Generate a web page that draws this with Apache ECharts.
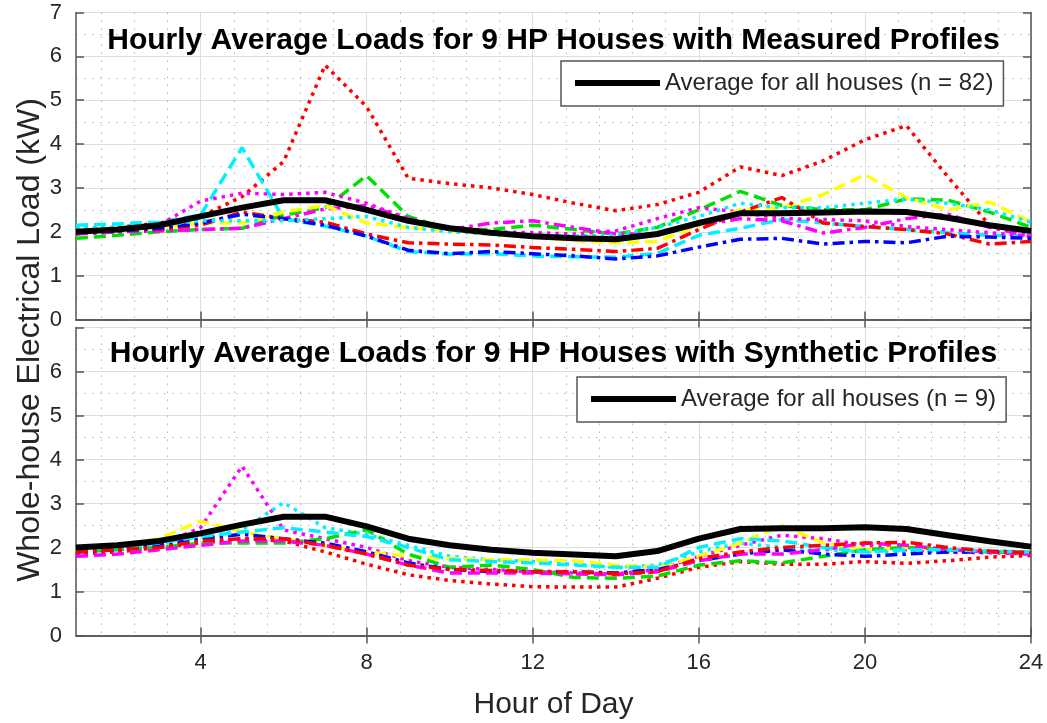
<!DOCTYPE html>
<html>
<head>
<meta charset="utf-8">
<script src="https://cdn.jsdelivr.net/npm/echarts@6/dist/echarts.min.js"></script>
<style>
  html, body { margin: 0; padding: 0; background: #ffffff; }
  #chart { width: 1047px; height: 723px; }
</style>
</head>
<body>
<div id="chart"></div>
<script>
// Hour of day (x values shared by every profile)
const hours = [1, 2, 3, 4, 5, 6, 7, 8, 9, 10, 11, 12, 13, 14, 15, 16, 17, 18, 19, 20, 21, 22, 23, 24];

// Tick labels
const hourTicks = [4, 8, 12, 16, 20, 24];
const hourMinorGrid = [1.6, 2.4, 3.2, 4.8, 5.6, 6.4, 7.2, 8.8, 9.6, 10.4, 11.2, 12.8, 13.6, 14.4, 15.2,
                       16.8, 17.6, 18.4, 19.2, 20.8, 21.6, 22.4, 23.2];
const loadTicksTop = [0, 1, 2, 3, 4, 5, 6, 7];
const loadTicksBottom = [0, 1, 2, 3, 4, 5, 6];

// Panel titles and legend names
const titleMeasured = 'Hourly Average Loads for 9 HP Houses with Measured Profiles';
const titleSynthetic = 'Hourly Average Loads for 9 HP Houses with Synthetic Profiles';
const avgNameMeasured = 'Average for all houses (n = 82)';
const avgNameSynthetic = 'Average for all houses (n = 9)';

// Measured profiles (kW)
const measuredAverage = [2.0, 2.05, 2.15, 2.35, 2.55, 2.72, 2.72, 2.5, 2.25, 2.08, 1.98, 1.9, 1.85, 1.83, 1.95, 2.2, 2.42, 2.42, 2.44, 2.46, 2.45, 2.32, 2.15, 2.02];
const measuredHouse1 = [2.05, 2.1, 2.2, 2.35, 2.8, 3.6, 5.8, 4.85, 3.22, 3.1, 3.0, 2.85, 2.65, 2.48, 2.62, 2.9, 3.48, 3.28, 3.62, 4.1, 4.42, 3.25, 2.15, 2.0];
const measuredHouse2 = [2.15, 2.18, 2.22, 2.38, 3.92, 2.3, 2.13, 1.9, 1.55, 1.49, 1.5, 1.45, 1.43, 1.42, 1.51, 1.92, 2.08, 2.28, 2.2, 2.12, 2.05, 1.98, 1.92, 1.9];
const measuredHouse3 = [1.85, 1.92, 2.0, 2.05, 2.08, 2.38, 2.55, 3.28, 2.35, 2.05, 2.05, 2.15, 2.05, 1.95, 2.1, 2.5, 2.92, 2.6, 2.5, 2.5, 2.75, 2.72, 2.45, 2.1];
const measuredHouse4 = [1.95, 2.0, 2.15, 2.7, 2.88, 2.85, 2.9, 2.65, 2.3, 2.05, 2.0, 1.98, 1.95, 2.02, 2.3, 2.55, 2.45, 2.3, 2.28, 2.25, 2.12, 2.05, 1.98, 1.9];
const measuredHouse5 = [1.95, 2.0, 2.02, 2.05, 2.08, 2.3, 2.52, 2.6, 2.3, 2.05, 2.2, 2.25, 2.1, 1.95, 1.95, 2.15, 2.3, 2.25, 1.97, 2.1, 2.3, 2.4, 2.1, 1.9];
const measuredHouse6 = [2.0, 2.05, 2.1, 2.2, 2.2, 2.45, 2.6, 2.2, 2.1, 2.02, 1.95, 1.9, 1.8, 1.75, 1.78, 2.15, 2.5, 2.55, 2.85, 3.3, 2.78, 2.5, 2.68, 2.22];
const measuredHouse7 = [2.0, 2.02, 2.06, 2.15, 2.45, 2.3, 2.22, 1.95, 1.75, 1.72, 1.7, 1.64, 1.6, 1.55, 1.62, 2.05, 2.45, 2.78, 2.2, 2.12, 2.05, 1.95, 1.72, 1.78];
const measuredHouse8 = [2.0, 2.02, 2.08, 2.2, 2.4, 2.3, 2.15, 1.9, 1.58, 1.5, 1.55, 1.5, 1.45, 1.38, 1.45, 1.65, 1.83, 1.85, 1.72, 1.78, 1.75, 1.9, 1.88, 1.85];
const measuredHouse9 = [2.1, 2.1, 2.15, 2.25, 2.25, 2.25, 2.3, 2.35, 2.1, 2.0, 1.95, 1.92, 1.9, 1.92, 2.1, 2.35, 2.65, 2.55, 2.55, 2.65, 2.75, 2.65, 2.5, 2.22];

// Synthetic profiles (kW)
const syntheticAverage = [2.0, 2.05, 2.15, 2.32, 2.52, 2.7, 2.7, 2.48, 2.2, 2.05, 1.95, 1.88, 1.84, 1.8, 1.92, 2.2, 2.42, 2.44, 2.44, 2.46, 2.42, 2.28, 2.14, 2.02];
const syntheticHouse1 = [1.85, 1.9, 2.05, 2.45, 3.85, 2.4, 2.2, 2.0, 1.7, 1.55, 1.5, 1.45, 1.42, 1.4, 1.5, 1.8, 2.05, 2.28, 2.2, 2.05, 1.95, 1.9, 1.88, 1.85];
const syntheticHouse2 = [1.9, 1.95, 2.05, 2.2, 2.4, 3.02, 2.45, 2.3, 2.05, 1.8, 1.72, 1.68, 1.62, 1.55, 1.6, 1.9, 2.1, 2.0, 1.95, 1.9, 1.92, 1.95, 1.92, 1.9];
const syntheticHouse3 = [1.9, 2.0, 2.2, 2.6, 2.35, 2.2, 2.05, 1.9, 1.8, 1.75, 1.72, 1.72, 1.7, 1.6, 1.55, 1.8, 2.1, 2.5, 2.1, 1.95, 2.0, 1.95, 1.9, 1.85];
const syntheticHouse4 = [1.85, 1.9, 2.0, 2.1, 2.2, 2.15, 1.9, 1.62, 1.38, 1.25, 1.17, 1.11, 1.1, 1.1, 1.3, 1.55, 1.68, 1.62, 1.62, 1.68, 1.64, 1.7, 1.78, 1.82];
const syntheticHouse5 = [1.9, 1.95, 2.0, 2.1, 2.1, 2.1, 2.2, 2.4, 1.85, 1.55, 1.6, 1.5, 1.32, 1.3, 1.35, 1.6, 1.7, 1.65, 1.8, 1.95, 2.0, 1.95, 1.9, 1.88];
const syntheticHouse6 = [1.9, 1.95, 2.05, 2.2, 2.3, 2.2, 2.1, 1.9, 1.65, 1.5, 1.45, 1.45, 1.45, 1.42, 1.5, 1.7, 1.85, 1.95, 1.85, 1.8, 1.85, 1.9, 1.9, 1.88];
const syntheticHouse7 = [1.8, 1.85, 1.95, 2.05, 2.15, 2.15, 2.05, 1.85, 1.6, 1.42, 1.42, 1.42, 1.4, 1.38, 1.45, 1.7, 1.85, 1.85, 1.95, 2.1, 2.05, 1.95, 1.9, 1.85];
const syntheticHouse8 = [1.95, 2.0, 2.1, 2.25, 2.35, 2.45, 2.35, 2.25, 2.0, 1.72, 1.68, 1.65, 1.6, 1.55, 1.55, 2.0, 2.2, 2.15, 2.0, 1.9, 1.95, 1.95, 1.92, 1.9];
const syntheticHouse9 = [1.9, 1.95, 2.0, 2.15, 2.2, 2.2, 2.05, 1.85, 1.6, 1.5, 1.48, 1.45, 1.45, 1.4, 1.45, 1.75, 1.9, 2.0, 2.05, 2.1, 2.12, 2.0, 1.92, 1.88];

// Line appearance
const FONT = "'Liberation Sans', Arial, Helvetica, sans-serif";
const DASH = {
  dot: [3.5, 5],
  dash: [12, 6],
  dashdot: [12, 5, 3.5, 5]
};
const measuredLines = [
  [measuredHouse1, '#ff0000', 'dot'],
  [measuredHouse2, '#00f0ff', 'dash'],
  [measuredHouse3, '#00e000', 'dash'],
  [measuredHouse4, '#ff00ff', 'dot'],
  [measuredHouse5, '#ff00ff', 'dashdot'],
  [measuredHouse6, '#ffff00', 'dash'],
  [measuredHouse7, '#ff0000', 'dashdot'],
  [measuredHouse8, '#0000ff', 'dashdot'],
  [measuredHouse9, '#00f0ff', 'dot']
];
const syntheticLines = [
  [syntheticHouse1, '#ff00ff', 'dot'],
  [syntheticHouse2, '#00f0ff', 'dot'],
  [syntheticHouse3, '#ffff00', 'dash'],
  [syntheticHouse4, '#ff0000', 'dot'],
  [syntheticHouse5, '#00e000', 'dash'],
  [syntheticHouse6, '#0000ff', 'dashdot'],
  [syntheticHouse7, '#ff00ff', 'dash'],
  [syntheticHouse8, '#00f0ff', 'dash'],
  [syntheticHouse9, '#ff0000', 'dashdot']
];

const toPoints = vals => hours.map((h, i) => [h, vals[i]]);

const BOX = '#555555';
const GRIDS = [
  { left: 76, top: 12.5, width: 955, height: 307 },
  { left: 76, top: 327.5, width: 955, height: 308 }
];

function xAxesFor(g, showLabels) {
  return [
    { // bottom: labels, ticks and major grid
      type: 'value', gridIndex: g, position: 'bottom', min: 1, max: 24,
      axisLine: { show: true, lineStyle: { color: BOX, width: 1.5 } },
      axisTick: { show: true, inside: true, length: 8, customValues: hourTicks, lineStyle: { color: BOX, width: 1.5 } },
      axisLabel: { show: showLabels, customValues: hourTicks, margin: 16, fontSize: 22, color: '#262626', fontFamily: FONT },
      splitLine: { show: true, lineStyle: { color: '#dedede', width: 1 } }
    },
    { // top edge of the box
      type: 'value', gridIndex: g, position: 'top', min: 1, max: 24,
      axisLine: { show: true, lineStyle: { color: BOX, width: 1.5 } },
      axisTick: { show: true, inside: true, length: 8, customValues: hourTicks, lineStyle: { color: BOX, width: 1.5 } },
      axisLabel: { show: false },
      splitLine: { show: false }
    },
    { // dotted minor grid along x
      type: 'value', gridIndex: g, position: 'bottom', min: 1, max: 24,
      axisLine: { show: false },
      axisTick: { show: false, customValues: hourMinorGrid },
      axisLabel: { show: false },
      splitLine: { show: true, lineStyle: { color: '#b4b4b4', width: 1, type: [1.5, 6.5] } }
    }
  ];
}

function yAxesFor(g, labels) {
  return [
    {
      type: 'value', gridIndex: g, position: 'left', min: 0, max: 7, interval: 1,
      axisLine: { show: true, lineStyle: { color: BOX, width: 1.5 } },
      axisTick: { show: true, inside: true, length: 8, lineStyle: { color: BOX, width: 1.5 } },
      axisLabel: { show: true, customValues: labels, margin: 14, fontSize: 22, color: '#262626', fontFamily: FONT },
      splitLine: { show: true, lineStyle: { color: '#dedede', width: 1 } },
      minorTick: { show: false, splitNumber: 2 },
      minorSplitLine: { show: true, lineStyle: { color: '#b4b4b4', width: 1, type: [1.5, 6.5] } }
    },
    {
      type: 'value', gridIndex: g, position: 'right', min: 0, max: 7, interval: 1,
      axisLine: { show: true, lineStyle: { color: BOX, width: 1.5 } },
      axisTick: { show: true, inside: true, length: 8, lineStyle: { color: BOX, width: 1.5 } },
      axisLabel: { show: false },
      splitLine: { show: false }
    }
  ];
}

const series = [];
function addPanel(lines, avgValues, avgName, xIdx, yIdx) {
  lines.forEach(([vals, color, dash], k) => {
    series.push({
      type: 'line', name: 'house-' + xIdx + '-' + k,
      xAxisIndex: xIdx, yAxisIndex: yIdx,
      data: toPoints(vals),
      symbol: 'none', silent: true, z: 3,
      lineStyle: { color: color, width: 3.5, type: DASH[dash], cap: 'butt' }
    });
  });
  series.push({
    type: 'line', name: avgName,
    xAxisIndex: xIdx, yAxisIndex: yIdx,
    data: toPoints(avgValues),
    symbol: 'none', silent: true, z: 4,
    itemStyle: { color: '#000000' },
    lineStyle: { color: '#000000', width: 6 }
  });
}
addPanel(measuredLines, measuredAverage, avgNameMeasured, 0, 0);
addPanel(syntheticLines, syntheticAverage, avgNameSynthetic, 3, 2);

function legendAt(name, left, top) {
  return {
    data: [name], left: left, top: top,
    orient: 'horizontal',
    icon: 'rect', itemWidth: 85, itemHeight: 6,
    padding: [10, 10, 11, 14],
    borderColor: BOX, borderWidth: 1.5, borderRadius: 0,
    backgroundColor: '#ffffff',
    selectedMode: false,
    textStyle: { fontSize: 24, color: '#262626', fontFamily: FONT },
    z: 10
  };
}

const option = {
  animation: false,
  backgroundColor: '#ffffff',
  grid: GRIDS,
  xAxis: [...xAxesFor(0, false), ...xAxesFor(1, true)],
  yAxis: [...yAxesFor(0, loadTicksTop), ...yAxesFor(1, loadTicksBottom)],
  legend: [
    legendAt(avgNameMeasured, 561, 61),
    legendAt(avgNameSynthetic, 577, 377)
  ],
  series: series,
  graphic: [
    { type: 'text', x: 553.5, y: 41, z: 20,
      style: { text: titleMeasured, align: 'center', verticalAlign: 'middle',
               font: "bold 30px " + FONT, fill: '#000000' } },
    { type: 'text', x: 553.5, y: 354, z: 20,
      style: { text: titleSynthetic, align: 'center', verticalAlign: 'middle',
               font: "bold 30px " + FONT, fill: '#000000' } },
    { type: 'text', x: 30, y: 340, rotation: Math.PI / 2, z: 20,
      style: { text: 'Whole-house Electrical Load (kW)', align: 'center', verticalAlign: 'middle',
               font: "32px " + FONT, fill: '#262626' } },
    { type: 'text', x: 553.5, y: 705, z: 20,
      style: { text: 'Hour of Day', align: 'center', verticalAlign: 'middle',
               font: "30px " + FONT, fill: '#262626' } }
  ]
};

const chart = echarts.init(document.getElementById('chart'), null, { renderer: 'canvas' });
chart.setOption(option);
</script>
</body>
</html>
